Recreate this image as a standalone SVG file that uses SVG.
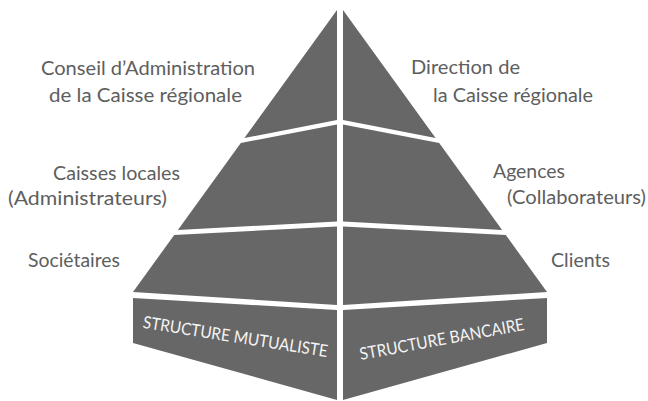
<svg xmlns="http://www.w3.org/2000/svg" width="648" height="401" viewBox="0 0 648 401">
  <style>
    .face { fill: #676767; }
    .lbl { font-family: Lato, "Liberation Sans", sans-serif; font-size: 18.5px; fill: #5e5e5e; }
    .base { font-family: Lato, "Liberation Sans", sans-serif; font-size: 17px; fill: #f4f4f4; }
  </style>
  <rect width="648" height="401" fill="#ffffff"/>

  <g id="left-face">
    <g id="conseil-administration">
      <polygon class="face" points="337,10 337,120 244.4,138"/>
      <text class="lbl" x="41" y="75" textLength="214" lengthAdjust="spacingAndGlyphs">Conseil d’Administration</text>
      <text class="lbl" x="49" y="101.5" textLength="193" lengthAdjust="spacingAndGlyphs">de la Caisse régionale</text>
    </g>
    <g id="caisses-locales">
      <polygon class="face" points="240.8,143 337,124.5 337,221.5 177.9,230"/>
      <text class="lbl" x="53" y="179.5" textLength="127" lengthAdjust="spacingAndGlyphs">Caisses locales</text>
      <text class="lbl" x="8" y="205" textLength="159" lengthAdjust="spacingAndGlyphs">(Administrateurs)</text>
    </g>
    <g id="societaires">
      <polygon class="face" points="174.2,235 337,226.5 337,305 133,292"/>
      <text class="lbl" x="28" y="266.5" textLength="92" lengthAdjust="spacingAndGlyphs">Sociétaires</text>
    </g>
    <g id="structure-mutualiste">
      <polygon class="face" points="133,298 337,310 337,400 133,343"/>
      <text class="base" text-anchor="middle" transform="translate(234.5,342.5) rotate(9)" textLength="187" lengthAdjust="spacingAndGlyphs">STRUCTURE MUTUALISTE</text>
    </g>
  </g>

  <g id="right-face">
    <g id="direction">
      <polygon class="face" points="343,10 343,120 435.6,138"/>
      <text class="lbl" x="411" y="74" textLength="109" lengthAdjust="spacingAndGlyphs">Direction de</text>
      <text class="lbl" x="433" y="101.5" textLength="160" lengthAdjust="spacingAndGlyphs">la Caisse régionale</text>
    </g>
    <g id="agences">
      <polygon class="face" points="343,124.5 439.2,143 502.1,230 343,221.5"/>
      <text class="lbl" x="493" y="178" textLength="72" lengthAdjust="spacingAndGlyphs">Agences</text>
      <text class="lbl" x="507" y="204" textLength="139" lengthAdjust="spacingAndGlyphs">(Collaborateurs)</text>
    </g>
    <g id="clients">
      <polygon class="face" points="343,226.5 505.8,235 547,292 343,305"/>
      <text class="lbl" x="551" y="266.5" textLength="59" lengthAdjust="spacingAndGlyphs">Clients</text>
    </g>
    <g id="structure-bancaire">
      <polygon class="face" points="343,310 547,298 547,343 343,400"/>
      <text class="base" text-anchor="middle" transform="translate(443,345) rotate(-10.4)" textLength="167" lengthAdjust="spacingAndGlyphs">STRUCTURE BANCAIRE</text>
    </g>
  </g>

  <g id="connectors"/>
</svg>
